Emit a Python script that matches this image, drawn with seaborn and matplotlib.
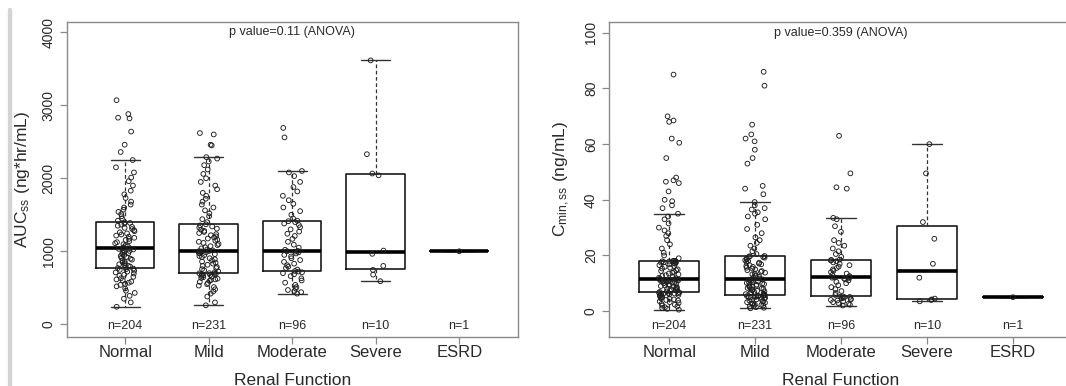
import numpy as np
import pandas as pd
import matplotlib
matplotlib.use("Agg")
import matplotlib.pyplot as plt
from matplotlib.lines import Line2D
import seaborn as sns

# ---------------- data ----------------
groups = ["Normal", "Mild", "Moderate", "Severe", "ESRD"]
n_labels = [204, 231, 96, 10, 1]
p_text_auc = "p value=0.11 (ANOVA)"
p_text_cmin = "p value=0.359 (ANOVA)"

auc_normal = [240, 300, 350, 390, 430, 460, 490, 520, 540, 555, 570, 585, 600, 615, 630, 650, 665, 680, 695, 710,
              720, 735, 745, 755, 762, 770,
              780, 790, 800, 810, 822, 835, 848, 860, 872, 885, 898, 910, 922, 935, 948, 960, 972, 985, 995, 1005,
              1015, 1025, 1033, 1040, 1045,
              1055, 1068, 1082, 1096, 1110, 1125, 1140, 1155, 1170, 1185, 1200, 1215, 1230, 1245, 1260, 1275, 1290,
              1305, 1320, 1335, 1350, 1365, 1378, 1388, 1395,
              1420, 1450, 1480, 1510, 1540, 1570, 1600, 1640, 1680, 1730, 1780, 1830, 1900, 1960, 2010, 2080, 2150,
              2250, 2360, 2460, 2640, 2820, 2830, 2880, 3070]
auc_mild = [260, 300, 380, 420, 450, 480, 510, 530, 550, 565, 580, 595, 605, 615, 625, 635, 645, 655, 662, 670,
            676, 682, 688, 693, 697, 700,
            712, 725, 740, 755, 770, 785, 800, 815, 830, 845, 860, 875, 890, 905, 920, 935, 948, 960, 970, 978,
            985, 992, 998, 1002, 1005,
            1012, 1025, 1040, 1055, 1070, 1085, 1100, 1115, 1130, 1145, 1160, 1175, 1190, 1205, 1220, 1235, 1250,
            1265, 1280, 1295, 1310, 1325, 1340, 1355, 1370,
            1400, 1440, 1480, 1520, 1560, 1600, 1640, 1680, 1720, 1760, 1800, 1850, 1900, 1950, 2000, 2060, 2120,
            2180, 2230, 2270, 2290, 2450, 2460, 2600, 2620]
auc_moderate = [420, 440, 455, 470, 490, 510, 540, 570, 600, 630, 660, 685, 700, 712, 722, 730,
                750, 770, 790, 810, 830, 855, 880, 905, 930, 950, 970, 985, 995, 1000, 1005,
                1020, 1050, 1090, 1130, 1170, 1210, 1240, 1270, 1300, 1330, 1360, 1380, 1400, 1412, 1420,
                1450, 1500, 1550, 1600, 1650, 1700, 1760, 1820, 1880, 1950, 2030, 2080, 2100, 2560, 2690]
auc_severe = [590, 680, 745, 800, 965, 1010, 2040, 2065, 2330, 3615]
auc_esrd = [1000]

cmin_normal = [0.5, 0.8, 1.1, 1.4, 1.7, 2.0, 2.3, 2.6, 2.9, 3.2, 3.5, 3.8, 4.0, 4.2, 4.4, 4.6, 4.8, 5.0, 5.2, 5.4,
               5.6, 5.8, 5.9, 6.0, 6.1, 6.2, 6.3, 6.4, 6.5, 6.6, 6.7,
               6.9, 7.1, 7.3, 7.5, 7.6, 7.8, 8.0, 8.2, 8.4, 8.6, 8.8, 9.0, 9.2, 9.4, 9.6, 9.8, 10.0, 10.2, 10.4,
               10.5, 10.6, 10.7, 10.8, 10.9, 11.0, 11.1, 11.2, 11.3, 11.35, 11.4,
               11.6, 11.8, 12.0, 12.3, 12.6, 12.9, 13.2, 13.5, 13.8, 14.1, 14.4, 14.7, 15.0, 15.3, 15.6, 15.9,
               16.2, 16.5, 16.8, 17.0, 17.2, 17.4, 17.5, 17.6, 17.7, 17.8, 17.9, 18.0, 18.05, 18.1,
               19.0, 20.0, 21.0, 22.5, 24.0, 25.5, 27.0, 28.0, 29.0, 30.0, 31.5, 33.0, 34.0, 35.0, 37.0, 38.0,
               39.5, 40.0, 43.0, 46.0, 46.5, 47.0, 48.0, 55.0, 60.5, 62.0, 68.0, 68.5, 70.0, 85.0]
cmin_mild = [1.0, 1.2, 1.4, 1.6, 1.8, 2.0, 2.2, 2.4, 2.6, 2.8, 3.0, 3.2, 3.4, 3.6, 3.8, 4.0, 4.2, 4.4, 4.6, 4.8,
             4.9, 5.0, 5.1, 5.2, 5.3, 5.4, 5.5, 5.55, 5.6, 5.65, 5.7,
             5.9, 6.1, 6.3, 6.5, 6.7, 6.9, 7.1, 7.3, 7.5, 7.7, 7.9, 8.1, 8.3, 8.5, 8.7, 8.9, 9.1, 9.3, 9.5, 9.7,
             9.9, 10.1, 10.3, 10.5, 10.7, 10.9, 11.1, 11.2, 11.3, 11.4,
             11.7, 12.0, 12.3, 12.6, 12.9, 13.2, 13.5, 13.8, 14.1, 14.4, 14.7, 15.0, 15.3, 15.6, 15.9, 16.2,
             16.5, 16.8, 17.1, 17.4, 17.7, 18.0, 18.3, 18.6, 18.9, 19.2, 19.4, 19.6, 19.7, 19.8,
             20.5, 21.5, 22.5, 23.5, 24.5, 25.5, 26.5, 28.0, 29.5, 31.0, 33.0, 34.0, 35.0, 35.5, 36.5, 37.0,
             38.0, 39.2, 42.0, 44.0, 45.0, 53.0, 55.0, 58.0, 61.0, 62.0, 63.5, 67.0, 81.0, 86.0]
cmin_moderate = [2.0, 2.3, 2.6, 2.9, 3.2, 3.5, 3.8, 4.0, 4.2, 4.4, 4.6, 4.8, 5.0, 5.1, 5.2, 5.3,
                 5.8, 6.5, 7.2, 7.9, 8.6, 9.3, 10.0, 10.5, 11.0, 11.4, 11.7, 11.9, 12.0, 12.1, 12.2,
                 12.6, 13.0, 13.5, 14.0, 14.5, 15.0, 15.5, 16.0, 16.5, 17.0, 17.5, 17.9, 18.2, 18.4, 18.5,
                 19.5, 20.5, 21.5, 22.5, 23.5, 24.5, 25.5, 28.5, 30.5, 33.0, 33.5, 44.0, 44.5, 49.5, 63.0]
cmin_severe = [3.5, 4.0, 4.2, 4.5, 12.0, 17.0, 26.0, 32.0, 49.5, 60.0]
cmin_esrd = [5.0]


def long_frame(series):
    rows = []
    for g, vals in zip(groups, series):
        for v in vals:
            rows.append((g, v))
    return pd.DataFrame(rows, columns=["group", "value"])


df_auc = long_frame([auc_normal, auc_mild, auc_moderate, auc_severe, auc_esrd])
df_cmin = long_frame([cmin_normal, cmin_mild, cmin_moderate, cmin_severe, cmin_esrd])

# ---------------- style ----------------
sns.set_style("ticks")
plt.rcParams["font.family"] = ["Liberation Sans", "DejaVu Sans"]
plt.rcParams["mathtext.fontset"] = "custom"
plt.rcParams["mathtext.rm"] = "Liberation Sans"
plt.rcParams["mathtext.it"] = "Liberation Sans"

TXT = "#2a2a2a"
AX = "#8a8a8a"

W, H = 1066, 386
fig = plt.figure(figsize=(W / 100, H / 100), dpi=100)
fig.patch.set_facecolor("white")

ax_bottom = (H - 336.7) / H
ax_height = 315 / H
ax1 = fig.add_axes([66.7 / W, ax_bottom, 451 / W, ax_height])
ax2 = fig.add_axes([609 / W, ax_bottom, 464 / W, ax_height])

np.random.seed(7)


def panel(ax, df, ylim, yticks, ylabel, ptext, ptext_y, label_x):
    sns.boxplot(data=df, x="group", y="value", order=groups, ax=ax, width=0.7, fill=False,
                showfliers=False, color="black", linecolor="black", linewidth=1.2,
                boxprops=dict(color="#1a1a1a", linewidth=1.2),
                whiskerprops=dict(linestyle=(0, (3, 2)), linewidth=0.9, color="#333333"),
                capprops=dict(linewidth=1.0, color="#333333"),
                medianprops=dict(linewidth=2.6, color="black"), zorder=2)
    n_before = len(ax.collections)
    sns.stripplot(data=df, x="group", y="value", order=groups, ax=ax, jitter=0.12, size=3.4,
                  color="white", edgecolor="#1e1e1e", linewidth=0.65, zorder=3)
    for c in ax.collections[n_before:]:
        c.set_facecolor("none")
    ax.set_xlim(-0.7, 4.7)
    ax.set_ylim(*ylim)
    ax.set_yticks(yticks)
    ax.set_yticklabels([str(t) for t in yticks], rotation=90, va="center", fontsize=10, color=TXT)
    ax.set_xticks(range(len(groups)))
    ax.set_xticklabels(groups, fontsize=12, color=TXT)
    ax.tick_params(axis="both", direction="out", length=5, width=0.9, color=AX)
    ax.tick_params(axis="x", pad=1)
    ax.tick_params(axis="y", pad=3)
    ax.set_xlabel("Renal Function", fontsize=12.5, color=TXT, labelpad=9)
    ax.set_ylabel(ylabel, fontsize=12.5, color=TXT)
    ax.yaxis.set_label_coords(label_x, 0.5)
    for s in ax.spines.values():
        s.set_visible(True)
        s.set_color(AX)
        s.set_linewidth(1.0)
    tr = ax.get_xaxis_transform()
    for i, n in enumerate(n_labels):
        ax.text(i, 0.034, f"n={n}", transform=tr, ha="center", va="center", fontsize=9, color=TXT)
    ax.text(2, ptext_y, ptext, ha="center", va="center", fontsize=9, color=TXT)


panel(ax1, df_auc, (-170, 4145), [0, 1000, 2000, 3000, 4000],
      r"AUC$_{\mathrm{ss}}$ (ng*hr/mL)", p_text_auc, 4000, (32.5 - 66.7) / 451)
panel(ax2, df_cmin, (-9.2, 104.0), [0, 20, 40, 60, 80, 100],
      r"C$_{\mathrm{min,ss}}$ (ng/mL)", p_text_cmin, 100, (572.5 - 609) / 464)

fig.add_artist(Line2D([9.5 / W, 9.5 / W], [0, 1 - 10 / H], transform=fig.transFigure,
                      color="#d4d4d4", linewidth=3.2))

fig.savefig("out.png", dpi=100)
